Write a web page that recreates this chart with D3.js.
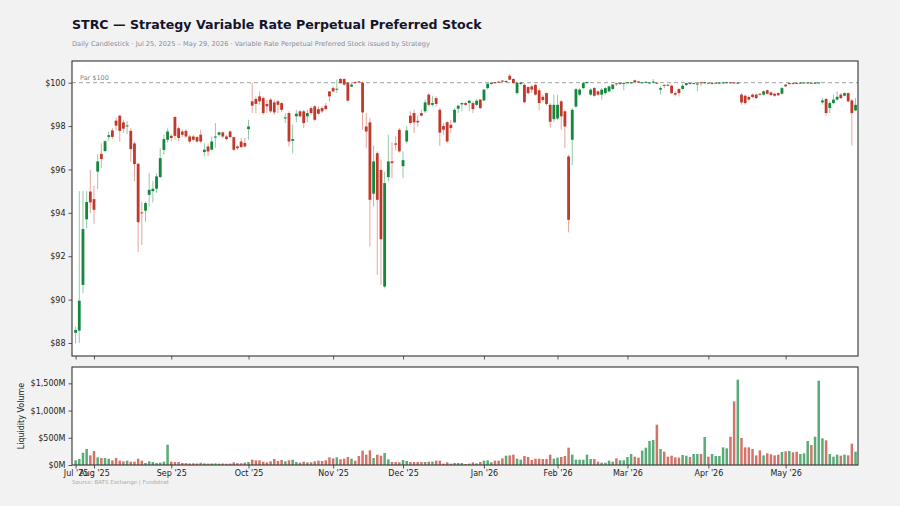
<!DOCTYPE html>
<html>
<head>
<meta charset="utf-8">
<script src="https://cdn.jsdelivr.net/npm/d3@7"></script>
<style>
  html, body { margin: 0; padding: 0; background: #f2f2f2; }
  svg { display: block; font-family: "DejaVu Sans", sans-serif; }
</style>
</head>
<body>
<div id="chart"></div>
<script>
(() => {
// trading-day series, Jul 25 2025 -> May 29 2026 (213 sessions)
const opens = [
  88.47, 88.57, 90.68, 93.7, 94.98, 94.63, 95.9, 96.72, 96.85, 97.5,
  97.8, 98.25, 98.48, 98.17, 97.98, 97.78, 97.2, 96.26, 94.02, 94.1,
  94.83, 95.0, 95.11, 95.65, 96.9, 97.37, 97.55, 98.42, 97.9, 97.75,
  97.78, 97.52, 97.52, 97.49, 97.6, 96.8, 97.06, 96.91, 97.47, 97.6,
  97.71, 97.52, 97.75, 97.49, 97.06, 97.29, 97.22, 97.86, 99.14, 99.25,
  99.37, 99.29, 99.02, 99.22, 99.09, 99.14, 99.06, 98.35, 98.6, 97.32,
  98.45, 98.68, 98.68, 98.45, 98.83, 98.91, 98.78, 98.83, 98.94, 99.6,
  99.75, 99.68, 100.17, 100.17, 100.0, 99.82, 100.03, 100.06, 100.0, 97.98,
  98.17, 94.88, 96.75, 95.98, 90.6, 95.65, 96.37, 97.2, 97.83, 96.15,
  97.29, 98.48, 98.6, 98.24, 98.6, 98.68, 99.45, 98.98, 99.29, 98.75,
  98.0, 98.18, 98.06, 98.17, 98.8, 99.0, 99.06, 99.06, 99.06, 98.98,
  99.22, 99.18, 99.75, 99.94, 100.02, 100.05, 100.1, 100.03, 100.32, 100.17,
  99.52, 99.94, 99.9, 99.8, 99.83, 99.9, 99.65, 99.35, 99.52, 98.98,
  98.32, 98.35, 99.14, 98.68, 96.6, 97.37, 98.9, 99.45, 99.75, 99.98,
  99.45, 99.75, 99.6, 99.45, 99.52, 99.6, 99.71, 99.97, 99.94, 99.97,
  99.98, 99.97, 100.11, 100.06, 100.0, 100.01, 99.98, 100.01, 100.0, 99.68,
  99.9, 99.91, 99.86, 99.52, 99.71, 99.71, 99.89, 99.98, 99.95, 99.95,
  100.02, 99.98, 100.0, 99.95, 99.98, 99.97, 99.98, 99.99, 100.02, 100.01,
  99.98, 99.45, 99.4, 99.34, 99.45, 99.45, 99.49, 99.45, 99.65, 99.55,
  99.49, 99.52, 99.49, 99.91, 99.94, 99.98, 99.99, 99.98, 99.99, 99.99,
  100.0, 99.98, 99.98, 99.09, 99.25, 98.83, 99.06, 99.22, 99.45, 99.4,
  99.52, 99.18, 98.72
];

const highs = [
  88.75, 95.0, 95.0, 95.0, 95.98, 95.25, 96.7, 97.2, 97.35, 97.75,
  97.9, 98.38, 98.52, 98.29, 98.23, 97.9, 97.28, 96.3, 94.5, 94.52,
  95.83, 95.45, 95.83, 96.98, 97.6, 97.9, 97.62, 98.45, 97.98, 97.85,
  97.85, 97.6, 97.6, 97.55, 97.83, 97.2, 97.2, 97.52, 98.14, 97.75,
  97.75, 97.6, 97.8, 97.52, 97.1, 97.45, 97.45, 98.29, 100.0, 99.37,
  99.6, 99.37, 99.22, 99.29, 99.22, 99.22, 99.1, 98.6, 98.68, 98.06,
  98.75, 98.75, 98.75, 98.75, 98.91, 98.98, 98.91, 98.91, 99.06, 99.6,
  99.83, 100.14, 100.21, 100.21, 100.02, 100.02, 100.05, 100.08, 100.06, 98.6,
  98.37, 97.1, 96.83, 96.45, 95.9, 97.6, 97.25, 97.55, 97.91, 96.83,
  98.0, 98.68, 98.75, 98.48, 98.75, 99.22, 99.52, 99.4, 99.37, 98.83,
  98.14, 98.22, 98.29, 98.83, 98.98, 99.1, 99.1, 99.22, 99.14, 99.25,
  99.25, 99.71, 99.98, 100.02, 100.03, 100.06, 100.11, 100.1, 100.41, 100.21,
  100.05, 100.02, 99.98, 99.83, 99.9, 99.94, 99.75, 99.45, 99.55, 99.06,
  99.45, 99.45, 99.22, 98.75, 96.68, 98.83, 99.75, 99.75, 100.05, 100.06,
  99.75, 99.8, 99.65, 99.75, 99.8, 99.86, 99.94, 100.0, 100.0, 100.02,
  100.03, 100.03, 100.14, 100.08, 100.03, 100.06, 100.03, 100.17, 100.02, 99.83,
  99.92, 99.92, 99.91, 99.6, 99.75, 99.94, 100.0, 100.0, 100.0, 100.02,
  100.05, 100.03, 100.02, 100.0, 100.02, 100.02, 100.04, 100.05, 100.03, 100.03,
  100.02, 99.52, 99.45, 99.4, 99.5, 99.5, 99.52, 99.65, 99.7, 99.6,
  99.52, 99.55, 99.8, 99.95, 100.0, 100.0, 100.01, 100.02, 100.03, 100.03,
  100.02, 100.02, 100.03, 99.29, 99.29, 99.14, 99.45, 99.6, 99.52, 99.55,
  99.55, 99.25, 99.29
];

const lows = [
  87.98, 88.0, 90.3, 93.3, 93.98, 93.5, 95.1, 96.06, 96.8, 97.3,
  97.4, 97.8, 97.28, 97.68, 97.63, 96.35, 95.45, 92.2, 92.52, 93.57,
  94.29, 94.48, 94.92, 95.6, 96.68, 97.23, 97.3, 97.37, 97.3, 97.5,
  97.45, 97.2, 97.3, 97.22, 97.23, 96.6, 96.6, 96.88, 97.0, 97.52,
  97.45, 97.35, 97.45, 96.85, 96.9, 96.98, 97.0, 97.37, 98.6, 98.6,
  98.98, 98.52, 98.6, 98.6, 98.52, 98.6, 98.65, 98.14, 97.06, 96.75,
  98.17, 98.4, 97.91, 98.17, 98.52, 98.22, 98.52, 98.6, 98.75, 99.14,
  99.55, 99.52, 99.95, 99.86, 99.14, 99.8, 99.95, 100.0, 97.83, 96.98,
  92.45, 94.29, 91.14, 90.68, 90.52, 95.45, 95.6, 96.88, 96.78, 95.6,
  97.2, 98.06, 97.68, 97.98, 98.45, 98.6, 98.91, 98.91, 98.91, 97.09,
  97.6, 97.2, 97.68, 98.14, 98.6, 98.68, 98.91, 98.68, 98.6, 98.91,
  98.78, 99.14, 99.68, 99.91, 99.98, 99.98, 100.03, 100.0, 100.11, 99.95,
  99.45, 99.9, 99.06, 99.45, 99.52, 99.4, 98.72, 99.1, 98.94, 97.91,
  98.2, 98.29, 97.83, 96.98, 93.1, 96.2, 98.83, 99.37, 99.71, 99.95,
  99.37, 99.35, 99.4, 99.22, 99.45, 99.55, 99.68, 99.85, 99.92, 99.65,
  99.97, 99.95, 100.02, 99.98, 99.98, 99.99, 99.96, 99.98, 99.94, 99.45,
  99.75, 99.83, 99.48, 99.37, 99.37, 99.68, 99.86, 99.92, 99.94, 99.6,
  99.85, 99.96, 99.97, 99.94, 99.96, 99.95, 99.96, 99.97, 99.97, 99.96,
  99.96, 98.98, 98.98, 99.17, 99.29, 99.25, 99.4, 99.4, 99.45, 99.38,
  99.35, 99.38, 99.45, 99.8, 99.92, 99.93, 99.95, 99.96, 99.97, 99.97,
  99.96, 99.96, 99.96, 98.98, 98.48, 98.6, 99.02, 99.18, 99.25, 99.37,
  99.09, 97.1, 98.68
];

const closes = [
  88.6, 89.95, 93.25, 94.5, 94.48, 94.14, 96.37, 96.48, 97.3, 97.58,
  97.5, 98.02, 97.78, 97.88, 98.03, 96.94, 96.25, 93.57, 93.98, 94.45,
  95.06, 95.11, 95.68, 96.52, 97.4, 97.75, 97.45, 97.55, 97.45, 97.6,
  97.52, 97.29, 97.37, 97.29, 97.29, 96.91, 96.83, 97.29, 97.52, 97.71,
  97.52, 97.4, 97.49, 96.91, 96.98, 97.03, 97.06, 97.98, 98.94, 99.02,
  99.14, 98.6, 98.91, 98.68, 98.63, 98.98, 98.75, 98.4, 97.29, 97.4,
  98.57, 98.45, 98.14, 98.6, 98.6, 98.29, 98.57, 98.68, 98.78, 99.37,
  99.6, 99.72, 99.98, 99.91, 99.17, 99.91, 99.98, 100.02, 98.63, 97.75,
  94.6, 96.37, 94.6, 92.78, 95.37, 96.37, 96.29, 97.14, 96.83, 96.43,
  97.8, 98.14, 98.17, 98.17, 98.48, 99.09, 98.98, 99.06, 99.02, 97.7,
  97.83, 97.29, 97.91, 98.75, 98.94, 99.06, 98.98, 99.17, 98.78, 99.17,
  98.83, 99.68, 99.95, 100.0, 100.0, 100.0, 100.05, 100.08, 100.14, 99.98,
  100.0, 100.0, 99.1, 99.52, 99.68, 99.45, 99.06, 99.2, 99.02, 98.2,
  98.98, 98.98, 98.45, 97.98, 93.68, 98.75, 99.7, 99.68, 99.98, 100.03,
  99.68, 99.4, 99.45, 99.68, 99.75, 99.83, 99.91, 99.94, 99.98, 99.99,
  100.02, 100.02, 100.03, 100.0, 100.02, 100.04, 100.01, 100.05, 99.96, 99.75,
  99.86, 99.86, 99.52, 99.45, 99.52, 99.86, 99.98, 99.94, 99.98, 99.96,
  99.97, 100.02, 99.98, 99.98, 100.0, 100.0, 100.01, 100.02, 99.99, 99.98,
  100.0, 99.09, 99.06, 99.22, 99.34, 99.29, 99.45, 99.6, 99.49, 99.43,
  99.4, 99.42, 99.75, 99.83, 99.98, 99.95, 99.97, 100.0, 100.01, 100.01,
  99.98, 100.0, 100.01, 99.18, 98.6, 99.06, 99.22, 99.35, 99.29, 99.52,
  99.14, 98.6, 98.98
];

// liquidity volume, $M
const volumes = [
  86, 110, 226, 294, 177, 257, 141, 128, 128, 116,
  86, 128, 80, 67, 80, 61, 61, 116, 80, 37,
  67, 55, 37, 43, 61, 373, 61, 55, 55, 37,
  35, 30, 32, 28, 40, 30, 26, 28, 30, 25,
  28, 24, 26, 49, 35, 33, 45, 55, 98, 86,
  86, 61, 49, 67, 110, 73, 92, 67, 86, 98,
  55, 43, 61, 49, 49, 67, 80, 73, 86, 141,
  122, 141, 104, 116, 147, 116, 80, 165, 263, 190,
  269, 128, 190, 171, 220, 104, 55, 55, 49, 92,
  73, 55, 55, 55, 55, 55, 61, 61, 80, 80,
  25, 49, 25, 37, 37, 37, 18, 25, 49, 31,
  55, 80, 86, 49, 80, 80, 122, 171, 177, 190,
  116, 98, 165, 147, 92, 116, 116, 110, 110, 190,
  116, 135, 147, 165, 318, 190, 98, 98, 98, 190,
  110, 110, 61, 43, 43, 80, 61, 122, 86, 86,
  147, 202, 153, 135, 263, 318, 441, 459, 741, 294,
  245, 153, 171, 141, 135, 184, 171, 147, 202, 202,
  202, 514, 153, 202, 165, 165, 324, 306, 520, 1169,
  1567, 496, 324, 324, 294, 177, 269, 177, 214, 196,
  177, 190, 239, 251, 257, 233, 245, 202, 214, 441,
  367, 520, 1548, 490, 453, 202, 153, 190, 171, 190,
  177, 392, 245
];

// month ticks: label and index of the first session of that month
const monthLabels = ["Jul '25", "Aug '25", "Sep '25", "Oct '25", "Nov '25", "Dec '25",
  "Jan '26", "Feb '26", "Mar '26", "Apr '26", "May '26"];
const monthStarts = [0, 5, 26, 47, 70, 89, 111, 131, 150, 172, 193];

const priceTicks = [88, 90, 92, 94, 96, 98, 100];
const volumeTicks = [0, 500, 1000, 1500];
const parValue = 100;

const upColor = "#13883d";
const downColor = "#c0392b";

const width = 900;
const height = 506;
const left = 72, right = 858;
const price = { top: 61, bottom: 356 };
const vol = { top: 367, bottom: 465 };

const candles = opens.map((o, i) => ({
  i, open: o, high: highs[i], low: lows[i], close: closes[i], volume: volumes[i]
}));

const svg = d3.select("#chart")
  .append("svg")
  .attr("width", width)
  .attr("height", height);

svg.append("rect")
  .attr("width", width)
  .attr("height", height)
  .attr("fill", "#f2f2f2");

const x = d3.scaleLinear()
  .domain([-0.98, candles.length - 0.33])
  .range([left, right]);

const y = d3.scaleLinear()
  .domain([87.4, 101.0])
  .range([price.bottom, price.top]);

const yv = d3.scaleLinear()
  .domain([0, 1800])
  .range([vol.bottom, vol.top]);

// title block
svg.append("text")
  .attr("x", 72)
  .attr("y", 29)
  .style("font-size", "12.6px")
  .style("font-weight", "bold")
  .attr("fill", "#14142b")
  .text("STRC \u2014 Strategy Variable Rate Perpetual Preferred Stock");

svg.append("text")
  .attr("x", 72)
  .attr("y", 45.5)
  .style("font-size", "6.65px")
  .attr("fill", "#8a8aa3")
  .text("Daily Candlestick \u00b7 Jul 25, 2025 \u2013 May 29, 2026 \u00b7 Variable Rate Perpetual Preferred Stock issued by Strategy");

// panels
[price, vol].forEach(p => {
  svg.append("rect")
    .attr("x", left)
    .attr("y", p.top)
    .attr("width", right - left)
    .attr("height", p.bottom - p.top)
    .attr("fill", "#ffffff");
});

const gp = svg.append("g");
const gv = svg.append("g");

// par line
gp.append("line")
  .attr("x1", left)
  .attr("x2", right)
  .attr("y1", y(parValue))
  .attr("y2", y(parValue))
  .attr("stroke", "#888")
  .attr("stroke-width", 0.8)
  .attr("stroke-dasharray", "4,3");

gp.append("text")
  .attr("x", 80)
  .attr("y", y(parValue) - 2.5)
  .style("font-size", "6.5px")
  .attr("fill", "#888")
  .text("Par $100");

// candles
const bodyW = 2.8;
const isUp = d => d.close >= d.open;

gp.selectAll("line.wick")
  .data(candles)
  .enter()
  .append("line")
  .attr("class", "wick")
  .attr("x1", d => x(d.i))
  .attr("x2", d => x(d.i))
  .attr("y1", d => y(d.high))
  .attr("y2", d => y(d.low))
  .attr("stroke", d => isUp(d) ? upColor : downColor)
  .attr("stroke-opacity", 0.45)
  .attr("stroke-width", 1);

gp.selectAll("rect.body")
  .data(candles)
  .enter()
  .append("rect")
  .attr("class", "body")
  .attr("x", d => x(d.i) - bodyW / 2)
  .attr("y", d => y(Math.max(d.open, d.close)))
  .attr("width", bodyW)
  .attr("height", d => Math.max(1, Math.abs(y(d.open) - y(d.close))))
  .attr("fill", d => isUp(d) ? upColor : downColor);

// volume bars
const barW = 2.5;
gv.selectAll("rect.vol")
  .data(candles)
  .enter()
  .append("rect")
  .attr("class", "vol")
  .attr("x", d => x(d.i) - barW / 2)
  .attr("y", d => yv(d.volume))
  .attr("width", barW)
  .attr("height", d => yv(0) - yv(d.volume))
  .attr("fill", d => isUp(d) ? upColor : downColor)
  .attr("fill-opacity", 0.7);

// axes
const styleAxis = g => {
  g.select(".domain").remove();
  g.selectAll(".tick line").attr("stroke", "#333").attr("stroke-width", 0.8);
  g.selectAll(".tick text")
    .style("font-size", "8px")
    .style("font-family", "DejaVu Sans, sans-serif")
    .attr("fill", "#222");
};

svg.append("g")
  .attr("transform", `translate(${left},0)`)
  .call(d3.axisLeft(y).tickValues(priceTicks).tickSize(3.5).tickPadding(3).tickFormat(d => "$" + d))
  .call(styleAxis);

svg.append("g")
  .attr("transform", `translate(${left},0)`)
  .call(d3.axisLeft(yv).tickValues(volumeTicks).tickSize(3.5).tickPadding(3)
    .tickFormat(d => "$" + d3.format(",")(d) + "M"))
  .call(styleAxis);

svg.append("g")
  .attr("transform", `translate(0,${price.bottom})`)
  .call(d3.axisBottom(x).tickValues(monthStarts).tickSize(3.5).tickFormat(""))
  .call(styleAxis);

svg.append("g")
  .attr("transform", `translate(0,${vol.bottom})`)
  .call(d3.axisBottom(x).tickValues(monthStarts).tickSize(3.5).tickPadding(2)
    .tickFormat((d, k) => monthLabels[k]))
  .call(styleAxis);

// panel borders on top
[price, vol].forEach(p => {
  svg.append("rect")
    .attr("x", left)
    .attr("y", p.top)
    .attr("width", right - left)
    .attr("height", p.bottom - p.top)
    .attr("fill", "none")
    .attr("stroke", "#333")
    .attr("stroke-width", 1.1);
});

svg.append("text")
  .attr("transform", `translate(24,${(vol.top + vol.bottom) / 2}) rotate(-90)`)
  .attr("text-anchor", "middle")
  .style("font-size", "8px")
  .attr("fill", "#222")
  .text("Liquidity Volume");

svg.append("text")
  .attr("x", 72)
  .attr("y", 483.5)
  .style("font-size", "5.5px")
  .attr("fill", "#aaa")
  .text("Source: BATS Exchange | Fundstrat");
})();
</script>
</body>
</html>
